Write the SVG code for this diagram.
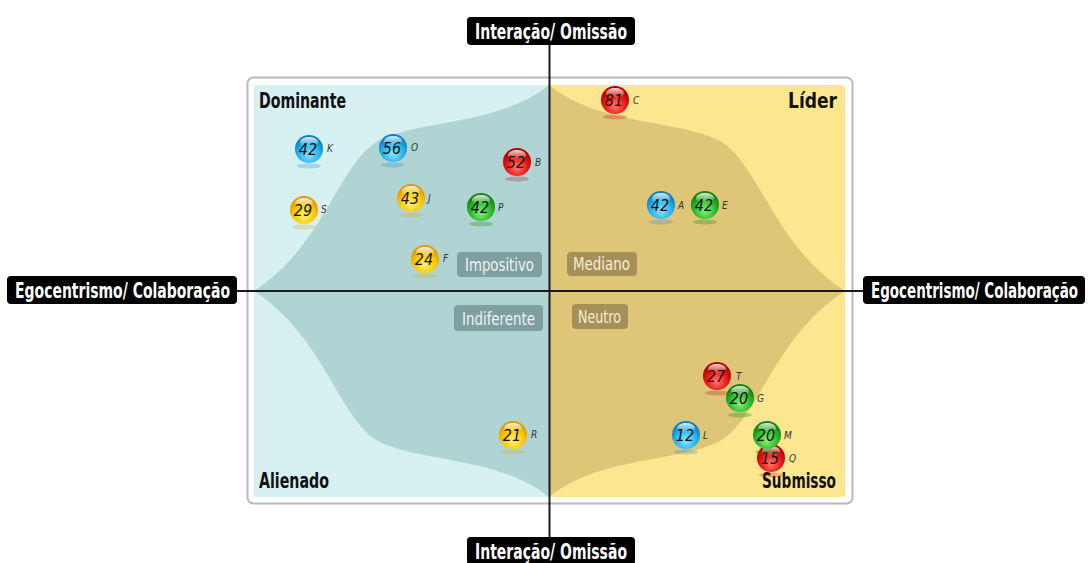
<svg xmlns="http://www.w3.org/2000/svg" width="1089" height="563" viewBox="0 0 1089 563">
<style>
.axlab{font-family:"DejaVu Sans Condensed","Liberation Sans Narrow","Liberation Sans",sans-serif;font-weight:bold;font-size:22px;fill:#fff}
.corner{font-family:"DejaVu Sans Condensed","Liberation Sans Narrow","Liberation Sans",sans-serif;font-weight:bold;font-size:21px;fill:#111}
.tag{font-family:"DejaVu Sans Condensed","Liberation Sans Narrow","Liberation Sans",sans-serif;font-size:17px}
.num{font-family:"DejaVu Sans Condensed","Liberation Sans",sans-serif;font-style:italic;font-size:16px;fill:#141414;text-anchor:middle}
.let{font-family:"DejaVu Sans Condensed","Liberation Sans",sans-serif;font-style:italic;font-size:10px;fill:#333}
.hl{fill:url(#hl)}
</style>
<defs>
<radialGradient id="gb" cx="50%" cy="70%" r="60%"><stop offset="0" stop-color="#8ae6ff"/><stop offset="0.6" stop-color="#2cb5ef"/><stop offset="1" stop-color="#0b82c4"/></radialGradient>
<radialGradient id="gy" cx="50%" cy="70%" r="60%"><stop offset="0" stop-color="#fff27a"/><stop offset="0.6" stop-color="#ffcb05"/><stop offset="1" stop-color="#e09c00"/></radialGradient>
<radialGradient id="gr" cx="50%" cy="70%" r="60%"><stop offset="0" stop-color="#ff7a6a"/><stop offset="0.6" stop-color="#ec1a1a"/><stop offset="1" stop-color="#b30000"/></radialGradient>
<radialGradient id="gg" cx="50%" cy="70%" r="60%"><stop offset="0" stop-color="#90f07c"/><stop offset="0.6" stop-color="#2ebc2e"/><stop offset="1" stop-color="#12870f"/></radialGradient>
<linearGradient id="hl" x1="0" y1="0" x2="0" y2="1"><stop offset="0" stop-color="#fff" stop-opacity="0.85"/><stop offset="1" stop-color="#fff" stop-opacity="0"/></linearGradient>
</defs>

<g id="frame">
<rect x="247.5" y="77.5" width="605" height="426" rx="6" fill="#fff" stroke="#b9b9b9" stroke-width="2"/>
<rect x="254" y="85" width="296" height="412" rx="3" fill="#d7f0f1"/>
<rect x="549" y="85" width="296" height="412" rx="3" fill="#fde690"/>
<path d="M549,85 C500,125 420,120 380,140 C340,160 325,245 254,291 C325,337 340,422 380,442 C420,462 500,457 549,497 Z" fill="#b0d4d4"/>
<path d="M549,85 C598,125 678,120 718,140 C758,160 773,245 845,291 C773,337 758,422 718,442 C678,462 598,457 549,497 Z" fill="#dfc577"/>
</g>

<g id="connectors" stroke="#1a1a1a" stroke-width="2" fill="none">
<line x1="549.5" y1="44" x2="549.5" y2="538"/>
<line x1="236" y1="291" x2="865" y2="291"/>
</g>

<g id="axis-top">
<rect x="467" y="17" width="168" height="28" rx="4" fill="#000"/>
<text class="axlab" x="475" y="38.5" textLength="152" lengthAdjust="spacingAndGlyphs">Interação/ Omissão</text>
</g>
<g id="axis-bottom">
<rect x="467" y="537" width="168" height="28" rx="4" fill="#000"/>
<text class="axlab" x="475" y="558.5" textLength="152" lengthAdjust="spacingAndGlyphs">Interação/ Omissão</text>
</g>
<g id="axis-left">
<rect x="7" y="276" width="230" height="28" rx="4" fill="#000"/>
<text class="axlab" x="15" y="298" textLength="215" lengthAdjust="spacingAndGlyphs">Egocentrismo/ Colaboração</text>
</g>
<g id="axis-right">
<rect x="863" y="276" width="222" height="28" rx="4" fill="#000"/>
<text class="axlab" x="1078" y="298" text-anchor="end" textLength="207" lengthAdjust="spacingAndGlyphs">Egocentrismo/ Colaboração</text>
</g>

<g id="label-dominante"><text class="corner" x="259" y="108" textLength="87" lengthAdjust="spacingAndGlyphs">Dominante</text></g>
<g id="label-lider"><text class="corner" x="788" y="108" textLength="49" lengthAdjust="spacingAndGlyphs">Líder</text></g>
<g id="label-alienado"><text class="corner" x="259" y="488" textLength="70" lengthAdjust="spacingAndGlyphs">Alienado</text></g>
<g id="label-submisso"><text class="corner" x="762" y="488" textLength="74" lengthAdjust="spacingAndGlyphs">Submisso</text></g>

<g id="tag-impositivo"><rect x="457" y="252" width="85" height="25" rx="4" fill="#7f9fa0"/><text class="tag" x="465" y="270.5" fill="#eef4f4" textLength="69" lengthAdjust="spacingAndGlyphs">Impositivo</text></g>
<g id="tag-indiferente"><rect x="454" y="305" width="89" height="26" rx="4" fill="#7f9fa0"/><text class="tag" x="462" y="324.5" fill="#eef4f4" textLength="73" lengthAdjust="spacingAndGlyphs">Indiferente</text></g>
<g id="tag-mediano"><rect x="567" y="252" width="70" height="24" rx="4" fill="#a59057"/><text class="tag" x="573" y="270" fill="#f6eed6" textLength="57" lengthAdjust="spacingAndGlyphs">Mediano</text></g>
<g id="tag-neutro"><rect x="572" y="304" width="56" height="25" rx="4" fill="#a59057"/><text class="tag" x="578" y="322.5" fill="#f6eed6" textLength="43" lengthAdjust="spacingAndGlyphs">Neutro</text></g>

<g id="ball-K"><ellipse cx="309" cy="166" rx="12" ry="2.5" fill="#0b82c4" opacity="0.25"/><circle cx="309" cy="149" r="14" fill="url(#gb)"/><ellipse class="hl" cx="309" cy="142" rx="9" ry="5"/><text class="num" x="308" y="155">42</text><text class="let" x="327" y="152">K</text></g>
<g id="ball-O"><ellipse cx="393" cy="165" rx="12" ry="2.5" fill="#0b82c4" opacity="0.25"/><circle cx="393" cy="148" r="14" fill="url(#gb)"/><ellipse class="hl" cx="393" cy="141" rx="9" ry="5"/><text class="num" x="392" y="154">56</text><text class="let" x="411" y="151">O</text></g>
<g id="ball-B"><ellipse cx="517" cy="179" rx="12" ry="2.5" fill="#b30000" opacity="0.25"/><circle cx="517" cy="162" r="14" fill="url(#gr)"/><ellipse class="hl" cx="517" cy="155" rx="9" ry="5"/><text class="num" x="516" y="168">52</text><text class="let" x="535" y="166">B</text></g>
<g id="ball-S"><ellipse cx="304" cy="227" rx="12" ry="2.5" fill="#e09c00" opacity="0.25"/><circle cx="304" cy="210" r="14" fill="url(#gy)"/><ellipse class="hl" cx="304" cy="203" rx="9" ry="5"/><text class="num" x="303" y="216">29</text><text class="let" x="321" y="213">S</text></g>
<g id="ball-J"><ellipse cx="411" cy="215" rx="12" ry="2.5" fill="#e09c00" opacity="0.25"/><circle cx="411" cy="198" r="14" fill="url(#gy)"/><ellipse class="hl" cx="411" cy="191" rx="9" ry="5"/><text class="num" x="410" y="204">43</text><text class="let" x="428" y="202">J</text></g>
<g id="ball-P"><ellipse cx="481" cy="224" rx="12" ry="2.5" fill="#12870f" opacity="0.3"/><circle cx="481" cy="207" r="14" fill="url(#gg)"/><ellipse class="hl" cx="481" cy="200" rx="9" ry="5"/><text class="num" x="480" y="213">42</text><text class="let" x="498" y="211">P</text></g>
<g id="ball-F"><ellipse cx="425" cy="276" rx="12" ry="2.5" fill="#e09c00" opacity="0.25"/><circle cx="425" cy="259" r="14" fill="url(#gy)"/><ellipse class="hl" cx="425" cy="252" rx="9" ry="5"/><text class="num" x="424" y="265">24</text><text class="let" x="443" y="262">F</text></g>
<g id="ball-C"><ellipse cx="615" cy="117" rx="12" ry="2.5" fill="#b30000" opacity="0.25"/><circle cx="615" cy="100" r="14" fill="url(#gr)"/><ellipse class="hl" cx="615" cy="93" rx="9" ry="5"/><text class="num" x="614" y="106">81</text><text class="let" x="633" y="104">C</text></g>
<g id="ball-A"><ellipse cx="661" cy="222" rx="12" ry="2.5" fill="#0b82c4" opacity="0.25"/><circle cx="661" cy="205" r="14" fill="url(#gb)"/><ellipse class="hl" cx="661" cy="198" rx="9" ry="5"/><text class="num" x="660" y="211">42</text><text class="let" x="678" y="209">A</text></g>
<g id="ball-E"><ellipse cx="705" cy="222" rx="12" ry="2.5" fill="#12870f" opacity="0.3"/><circle cx="705" cy="205" r="14" fill="url(#gg)"/><ellipse class="hl" cx="705" cy="198" rx="9" ry="5"/><text class="num" x="704" y="211">42</text><text class="let" x="722" y="209">E</text></g>
<g id="ball-T"><ellipse cx="717" cy="393" rx="12" ry="2.5" fill="#b30000" opacity="0.25"/><circle cx="717" cy="376" r="14" fill="url(#gr)"/><ellipse class="hl" cx="717" cy="369" rx="9" ry="5"/><text class="num" x="716" y="382">27</text><text class="let" x="736" y="380">T</text></g>
<g id="ball-G"><ellipse cx="740" cy="415" rx="12" ry="2.5" fill="#12870f" opacity="0.3"/><circle cx="740" cy="398" r="14" fill="url(#gg)"/><ellipse class="hl" cx="740" cy="391" rx="9" ry="5"/><text class="num" x="739" y="404">20</text><text class="let" x="757" y="402">G</text></g>
<g id="ball-L"><ellipse cx="686" cy="452" rx="12" ry="2.5" fill="#0b82c4" opacity="0.25"/><circle cx="686" cy="435" r="14" fill="url(#gb)"/><ellipse class="hl" cx="686" cy="428" rx="9" ry="5"/><text class="num" x="685" y="441">12</text><text class="let" x="703" y="439">L</text></g>
<g id="ball-R"><ellipse cx="513" cy="452" rx="12" ry="2.5" fill="#e09c00" opacity="0.25"/><circle cx="513" cy="435" r="14" fill="url(#gy)"/><ellipse class="hl" cx="513" cy="428" rx="9" ry="5"/><text class="num" x="512" y="441">21</text><text class="let" x="531" y="438">R</text></g>
<g id="ball-Q"><ellipse cx="771" cy="475" rx="12" ry="2.5" fill="#b30000" opacity="0.25"/><circle cx="771" cy="458" r="14" fill="url(#gr)"/><ellipse class="hl" cx="771" cy="451" rx="9" ry="5"/><text class="num" x="770" y="464">15</text><text class="let" x="789" y="462">Q</text></g>
<g id="ball-M"><ellipse cx="767" cy="452" rx="12" ry="2.5" fill="#12870f" opacity="0.3"/><circle cx="767" cy="435" r="14" fill="url(#gg)"/><ellipse class="hl" cx="767" cy="428" rx="9" ry="5"/><text class="num" x="766" y="441">20</text><text class="let" x="784" y="439">M</text></g>
</svg>
